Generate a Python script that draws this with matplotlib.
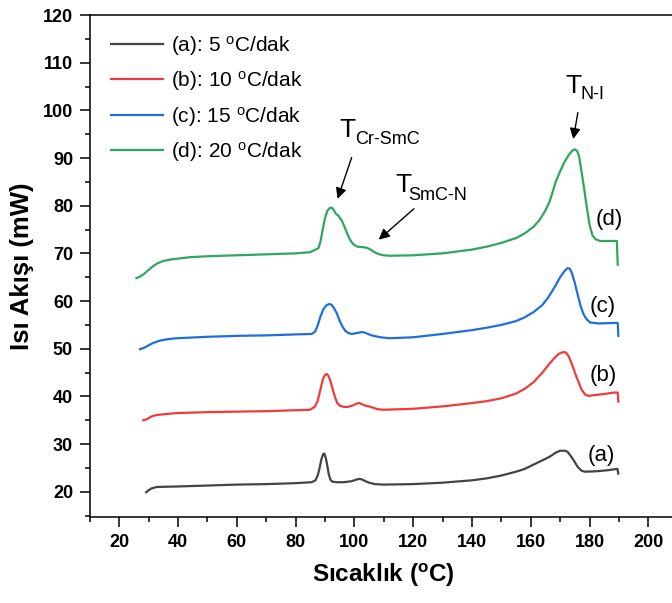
import numpy as np
import matplotlib
matplotlib.use('Agg')
import matplotlib.pyplot as plt
from matplotlib.ticker import MultipleLocator

plt.rcParams['font.family'] = ['Liberation Sans', 'DejaVu Sans']
plt.rcParams['mathtext.default'] = 'regular'

# (a) 5 oC/dak
temp_a = [29.2, 30, 31, 32.8, 36, 39.6, 50, 60, 70, 80, 85.5, 86.8, 87.6, 88.2, 88.8,
          89.4, 89.8, 90.3, 90.8, 91.3, 91.9, 92.6, 94, 96.3, 99, 100.5, 101.5, 102.5,
          103.5, 105, 107, 110, 120, 130, 140, 145, 150, 155, 158, 161, 164, 166.6,
          168.5, 170, 171.7, 172.5, 173.5, 174.5, 176, 177.3, 178.5, 182.4, 186, 189.5,
          189.8]
flow_a = [19.9, 20.3, 20.7, 21.0, 21.05, 21.1, 21.3, 21.5, 21.6, 21.8, 22.0, 22.4, 23.5,
          25.0, 26.8, 27.9, 28.0, 27.1, 25.5, 23.7, 22.5, 22.1, 22.0, 22.0, 22.2, 22.5,
          22.7, 22.6, 22.3, 21.9, 21.6, 21.5, 21.6, 21.9, 22.4, 22.8, 23.4, 24.2, 24.8,
          25.7, 26.6, 27.4, 28.2, 28.6, 28.6, 28.4, 27.6, 26.7, 25.2, 24.4, 24.2, 24.3,
          24.5, 24.8, 23.8]

# (b) 10 oC/dak
temp_b = [28.2, 29, 30, 31, 32.8, 36, 39.6, 50, 60, 70, 80, 84.9, 86.5, 87.5, 88.5, 89.3,
          90, 90.6, 91.2, 91.9, 92.6, 93.4, 94.2, 95.2, 96.5, 97.8, 99.5, 100.8, 101.7,
          102.5, 103.5, 105, 106.5, 108, 110, 120, 130, 140, 145, 150, 155, 158, 161,
          164, 166, 168, 169.5, 171, 172, 173, 174, 175.5, 177.3, 178.5, 179.6, 182,
          185, 188.1, 189.6, 189.8]
flow_b = [35.0, 35.1, 35.4, 35.8, 36.1, 36.3, 36.5, 36.7, 36.8, 36.9, 37.1, 37.2, 37.8,
          39.0, 41.5, 43.6, 44.5, 44.7, 44.3, 43.2, 41.6, 39.9, 38.6, 38.0, 37.8, 37.8,
          38.1, 38.5, 38.6, 38.4, 38.1, 37.9, 37.6, 37.3, 37.2, 37.4, 37.9, 38.6, 39.0,
          39.6, 40.6, 41.6, 43.0, 45.0, 46.6, 48.0, 48.9, 49.3, 49.2, 48.3, 46.8, 44.2,
          41.4, 40.4, 40.1, 40.3, 40.5, 40.8, 40.8, 38.9]

# (c) 15 oC/dak
temp_c = [27.1, 28.5, 30, 31.5, 33.9, 36.5, 39.6, 50, 60, 70, 80, 85.5, 86.7, 87.6, 88.5,
          89.5, 90.5, 91.5, 92.3, 93, 94, 95, 96, 97, 98, 99.1, 101, 102.5, 103.5, 105,
          106.5, 109, 112, 120, 130, 140, 145, 150, 155, 158, 161, 164, 166, 168, 170,
          171.5, 172.5, 173.3, 174, 175, 176, 177, 178, 179, 180.2, 183, 188.1, 189.6,
          189.8]
flow_c = [49.9, 50.2, 50.7, 51.2, 51.7, 52.0, 52.2, 52.5, 52.7, 52.8, 53.0, 53.1, 53.6,
          55.0, 56.8, 58.3, 59.1, 59.4, 59.2, 58.6, 57.5, 55.9, 54.6, 53.7, 53.3, 53.1,
          53.3, 53.5, 53.4, 53.0, 52.7, 52.4, 52.2, 52.4, 53.1, 53.9, 54.4, 55.0, 55.8,
          56.6, 57.7, 59.2, 60.8, 62.8, 65.0, 66.3, 66.9, 66.8, 65.9, 63.8, 61.3, 58.9,
          57.2, 56.2, 55.5, 55.3, 55.4, 55.4, 52.7]

# (d) 20 oC/dak
temp_d = [25.9, 27, 28.5, 30, 31.5, 33, 35, 37.3, 40, 44.1, 50, 60, 70, 80, 85, 87.8,
          88.5, 89.2, 90, 90.8, 91.6, 92.3, 93, 93.6, 94.6, 95.8, 96.8, 97.8, 98.8, 99.7,
          101, 103, 104.2, 105.5, 107, 108.5, 110, 112, 120, 130, 140, 145, 150, 155,
          158, 161, 163, 165, 166.5, 167.5, 168.5, 170, 171.5, 173, 174.2, 175, 175.8,
          176.5, 177.2, 178, 179, 180, 181, 182, 183.6, 186, 189.3, 189.6]
flow_d = [64.8, 65.1, 65.7, 66.5, 67.3, 67.9, 68.4, 68.7, 68.9, 69.2, 69.4, 69.6, 69.8,
          70.0, 70.25, 71.1, 72.5, 74.8, 77.3, 78.9, 79.5, 79.6, 79.1, 78.4, 77.9, 76.8,
          75.4, 73.8, 72.6, 71.9, 71.4, 71.3, 71.2, 70.8, 70.2, 69.8, 69.6, 69.5, 69.6,
          70.0, 70.8, 71.4, 72.2, 73.2, 74.2, 75.6, 77.0, 79.0, 81.0, 83.0, 85.0, 87.2,
          89.2, 90.7, 91.6, 91.8, 91.5, 90.2, 87.5, 84.3, 80.0, 76.0, 73.8, 73.0, 72.6,
          72.6, 72.6, 67.6]

labels = ['(a): 5 $^{o}$C/dak', '(b): 10 $^{o}$C/dak',
          '(c): 15 $^{o}$C/dak', '(d): 20 $^{o}$C/dak']
colors = ['#444444', '#ef3b3b', '#1f6ee0', '#2fa75d']
side_labels = ['(a)', '(b)', '(c)', '(d)']
side_pos = [(184.0, 27.6), (184.8, 44.3), (184.6, 58.8), (186.6, 77.2)]

fig = plt.figure(figsize=(6.72, 6.03), dpi=100)
ax = fig.add_axes([0.1335, 0.1426, 0.875, 0.8325])

series = [(temp_a, flow_a), (temp_b, flow_b), (temp_c, flow_c), (temp_d, flow_d)]
for (t, f), c, lab in zip(series, colors, labels):
    ax.plot(t, f, color=c, lw=1.6, label=lab, solid_joinstyle='round')

for (px, py), s in zip(side_pos, side_labels):
    ax.text(px, py, s, fontsize=16, ha='center', va='center')

# transition annotations
arrow = dict(arrowstyle='-|>', color='black', lw=1.0, mutation_scale=16)
ax.annotate('', xy=(94.0, 80.9), xytext=(99.4, 90.65), arrowprops=arrow)
ax.annotate('', xy=(107.6, 72.5), xytext=(121.0, 79.75), arrowprops=arrow)
ax.annotate('', xy=(174.3, 93.4), xytext=(176.2, 100.1), arrowprops=arrow)

ax.text(94.8, 94.4, 'T', fontsize=19, ha='left', va='baseline')
ax.text(100.4, 92.9, 'Cr-SmC', fontsize=13, ha='left', va='baseline')
ax.text(113.8, 82.9, 'T', fontsize=19, ha='left', va='baseline')
ax.text(118.3, 81.2, 'SmC-N', fontsize=13, ha='left', va='baseline')
ax.text(171.7, 103.6, 'T', fontsize=19, ha='left', va='baseline')
ax.text(177.0, 102.4, 'N-I', fontsize=13, ha='left', va='baseline')

ax.set_xlim(10, 210)
ax.set_ylim(14.7, 120)
ax.xaxis.set_minor_locator(MultipleLocator(10))
ax.yaxis.set_minor_locator(MultipleLocator(5))
ax.set_xticks(np.arange(20, 201, 20))
ax.set_yticks(np.arange(20, 121, 10))
ax.tick_params(which='major', direction='out', length=7, width=1.1, labelsize=13, pad=5)
ax.tick_params(which='minor', direction='out', length=3.5, width=1.1)
for lbl in ax.get_xticklabels() + ax.get_yticklabels():
    lbl.set_fontweight('bold')
for sp in ax.spines.values():
    sp.set_linewidth(1.1)

ax.set_xlabel('Sıcaklık ($^{o}$C)', fontsize=17.5, fontweight='bold', labelpad=8)
ax.set_ylabel('Isı Akışı (mW)', fontsize=18.5, fontweight='bold', labelpad=6)

ax.legend(loc='upper left', bbox_to_anchor=(0.036, 0.963), frameon=False, fontsize=15,
          handlelength=2.5, handletextpad=0.4, labelspacing=0.55, borderpad=0,
          borderaxespad=0)

fig.savefig('out.png', dpi=100)
